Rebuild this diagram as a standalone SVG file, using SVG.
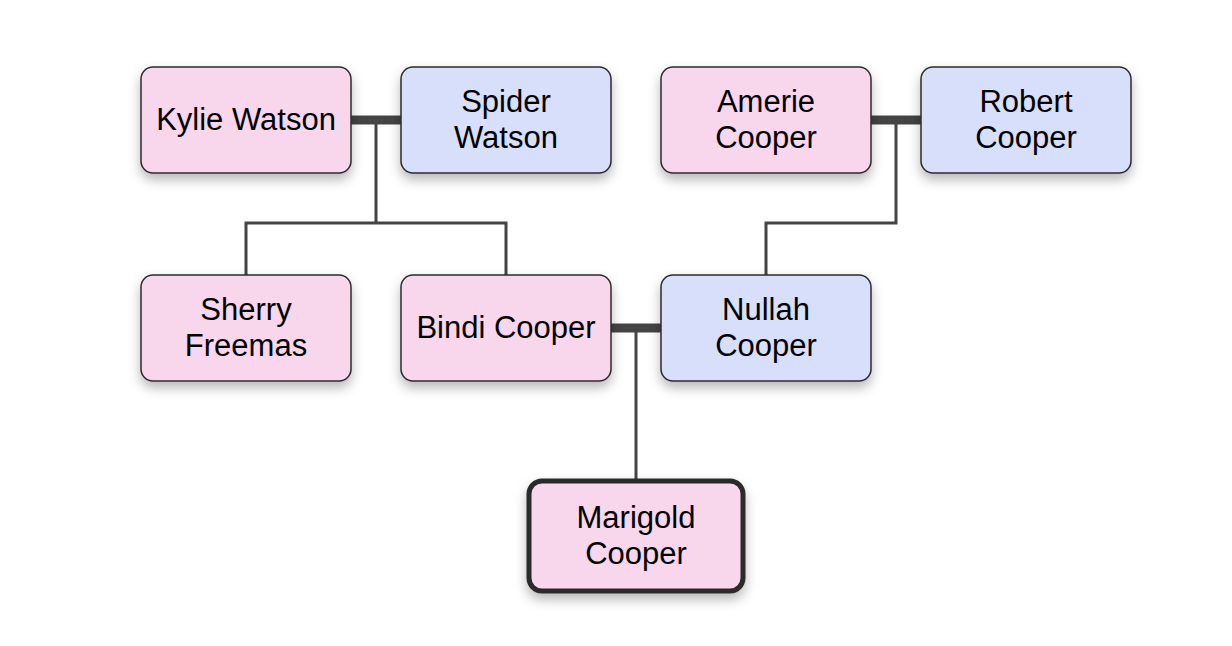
<svg xmlns="http://www.w3.org/2000/svg" width="1232" height="646" viewBox="0 0 1232 646">
<defs>
<filter id="sh" x="-20%" y="-20%" width="140%" height="150%">
<feDropShadow dx="0" dy="6" stdDeviation="6" flood-color="#000" flood-opacity="0.28"/>
</filter>
<style>
.n rect{stroke:#2b2b2b;stroke-width:1.5;filter:url(#sh)}
.f rect{fill:#f8d7ec}
.m rect{fill:#d8dffa}
.n text{font-family:"Liberation Sans",Arial,sans-serif;font-size:31px;fill:#000;text-anchor:middle}
.c{stroke:#444;fill:none}
.thin{stroke-width:3}
.thick{stroke-width:9}
</style>
</defs>
<rect width="1232" height="646" fill="#fff"/>
<g id="connectors">
<line class="c thick" x1="351" y1="120" x2="401" y2="120"/>
<line class="c thick" x1="871" y1="120" x2="921" y2="120"/>
<line class="c thick" x1="611" y1="328" x2="661" y2="328"/>
<polyline class="c thin" points="376,120 376,223"/>
<polyline class="c thin" points="246,275 246,223 506,223 506,275"/>
<polyline class="c thin" points="896,120 896,223 766,223 766,275"/>
<polyline class="c thin" points="636,328 636,481"/>
</g>
<g id="kylie" class="n f"><rect x="141" y="67" width="210" height="106" rx="12"/><text x="246" y="130">Kylie Watson</text></g>
<g id="spider" class="n m"><rect x="401" y="67" width="210" height="106" rx="12"/><text x="506" y="112">Spider</text><text x="506" y="148">Watson</text></g>
<g id="amerie" class="n f"><rect x="661" y="67" width="210" height="106" rx="12"/><text x="766" y="112">Amerie</text><text x="766" y="148">Cooper</text></g>
<g id="robert" class="n m"><rect x="921" y="67" width="210" height="106" rx="12"/><text x="1026" y="112">Robert</text><text x="1026" y="148">Cooper</text></g>
<g id="sherry" class="n f"><rect x="141" y="275" width="210" height="106" rx="12"/><text x="246" y="320">Sherry</text><text x="246" y="356">Freemas</text></g>
<g id="bindi" class="n f"><rect x="401" y="275" width="210" height="106" rx="12"/><text x="506" y="338">Bindi Cooper</text></g>
<g id="nullah" class="n m"><rect x="661" y="275" width="210" height="106" rx="12"/><text x="766" y="320">Nullah</text><text x="766" y="356">Cooper</text></g>
<g id="marigold" class="n f"><rect x="529" y="481" width="214" height="110" rx="13" style="stroke-width:5"/><text x="636" y="528">Marigold</text><text x="636" y="564">Cooper</text></g>
</svg>
